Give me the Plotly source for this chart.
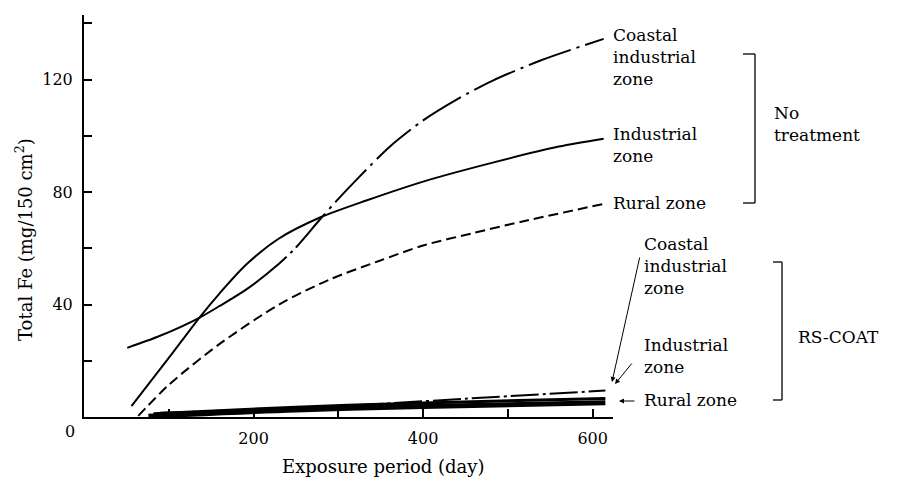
import plotly.graph_objects as go

# ---- data ----
# No treatment
days_coastal = [51, 89, 136, 160, 192, 230, 250, 277, 297, 325, 360, 400, 440, 481, 540, 613]
fe_coastal = [24.6, 28.8, 35.3, 39.5, 45.5, 54.5, 60.3, 69.8, 76.6, 85.5, 96.0, 105.5, 113.0, 119.5, 127.0, 134.5]

days_industrial = [56, 100, 136, 160, 192, 230, 277, 333, 403, 481, 560, 613]
fe_industrial = [3.9, 21.0, 35.3, 44.0, 54.4, 63.5, 70.8, 77.0, 84.0, 90.4, 96.2, 99.0]

days_rural = [64, 101, 160, 230, 289, 348, 400, 460, 521, 613]
fe_rural = [0.4, 11.7, 26.0, 40.0, 48.8, 55.5, 61.0, 65.5, 69.8, 75.8]

# RS-COAT
days_rs_coastal = [90, 283, 450, 615]
fe_rs_coastal = [1.5, 3.6, 6.5, 9.4]
days_rs_industrial = [82, 250, 400, 615]
fe_rs_industrial = [1.2, 3.5, 5.0, 6.6]
days_rs_rural = [76, 250, 400, 615]
fe_rs_rural = [0.3, 2.5, 3.7, 5.1]

x_tickvals = [100, 200, 300, 400, 500, 600]
x_ticktext = ["", "200", "", "400", "", "600"]
y_tickvals = [20, 40, 60, 80, 100, 120, 140]
y_ticktext = ["", "40", "", "80", "", "120", ""]

FONT = "DejaVu Serif"
O = 8  # page body margin offset
W, H = 906 - O, 477 - O
L, R, T, B = 84 - O, 613 - O, 15 - O, 417 - O


def px(x):
    return (x - O - L) / (R - L)


def py(y):
    return (B - (y - O)) / (B - T)


coastal_dash = "185px,5px,3px,5px," + ",".join(["45px,6px,3px,6px"] * 14)

fig = go.Figure()
fig.add_trace(go.Scatter(x=days_coastal, y=fe_coastal, mode="lines",
                         line=dict(color="black", width=2, dash=coastal_dash, shape="spline", smoothing=0.8)))
fig.add_trace(go.Scatter(x=days_industrial, y=fe_industrial, mode="lines",
                         line=dict(color="black", width=2, shape="spline", smoothing=0.8)))
fig.add_trace(go.Scatter(x=days_rural, y=fe_rural, mode="lines",
                         line=dict(color="black", width=2, dash="10px,5px", shape="spline", smoothing=0.8)))
fig.add_trace(go.Scatter(x=days_rs_rural, y=fe_rs_rural, mode="lines",
                         line=dict(color="black", width=5, shape="spline")))
fig.add_trace(go.Scatter(x=days_rs_industrial, y=fe_rs_industrial, mode="lines",
                         line=dict(color="black", width=3, shape="spline")))
fig.add_trace(go.Scatter(x=days_rs_coastal, y=fe_rs_coastal, mode="lines",
                         line=dict(color="black", width=2, dash="28px,4px,3px,4px", shape="spline")))

ann = []


def text(x, y, t, size=17, xanchor="left"):
    ann.append(dict(x=px(x), y=py(y), xref="paper", yref="paper", text=t, showarrow=False,
                    xanchor=xanchor, yanchor="middle", align="left",
                    font=dict(size=size, family=FONT, color="black")))


text(611, 57, "Coastal<br>industrial<br>zone")
text(611, 145, "Industrial<br>zone")
text(611, 203, "Rural zone")
text(772, 124, "No<br>treatment")
text(642, 266, "Coastal<br>industrial<br>zone")
text(642, 356, "Industrial<br>zone")
text(642, 400, "Rural zone")
text(796, 337, "RS-COAT")
text(70, 431, "0", size=16, xanchor="center")

# axis titles
ann.append(dict(x=px(383), y=py(466), xref="paper", yref="paper", text="Exposure period (day)",
                showarrow=False, xanchor="center", yanchor="middle",
                font=dict(size=18, family=FONT, color="black")))
ann.append(dict(x=px(24), y=py(240), xref="paper", yref="paper",
                text="Total Fe (mg/150 cm<sup>2</sup>)", textangle=-90,
                showarrow=False, xanchor="center", yanchor="middle",
                font=dict(size=18, family=FONT, color="black")))

# arrows for RS-COAT labels
for (hx, hy, tx, ty) in [(612, 382, 640, 256), (615, 384, 633, 362), (619, 401, 636, 401)]:
    ann.append(dict(x=px(hx), y=py(hy), xref="paper", yref="paper", text="",
                    showarrow=True, ax=tx - hx, ay=ty - hy, axref="pixel", ayref="pixel",
                    arrowhead=2, arrowsize=1, arrowwidth=1, arrowcolor="black", standoff=0))

shapes = []


def seg(x0, y0, x1, y1, w=1.3):
    shapes.append(dict(type="line", xref="paper", yref="paper", x0=px(x0), y0=py(y0),
                       x1=px(x1), y1=py(y1), line=dict(color="black", width=w)))


# brackets
seg(743, 54, 755, 54)
seg(755, 54, 755, 203)
seg(743, 203, 755, 203)
seg(773, 262, 782, 262)
seg(782, 262, 782, 400)
seg(773, 400, 782, 400)

fig.update_layout(
    width=W, height=H,
    margin=dict(l=L, r=W - R, t=T, b=H - B),
    paper_bgcolor="white", plot_bgcolor="white",
    showlegend=False,
    annotations=ann, shapes=shapes,
    xaxis=dict(range=[0, 624], showgrid=False, zeroline=False, showline=True, linecolor="black",
               linewidth=2, ticks="inside", ticklen=8, tickwidth=1.5, tickcolor="black",
               tickvals=x_tickvals, ticktext=x_ticktext, ticklabelstandoff=6,
               tickfont=dict(size=16, family=FONT, color="black")),
    yaxis=dict(range=[0, 143], showgrid=False, zeroline=False, showline=True, linecolor="black",
               linewidth=2, ticks="inside", ticklen=8, tickwidth=1.5, tickcolor="black",
               tickvals=y_tickvals, ticktext=y_ticktext, ticklabelstandoff=6,
               tickfont=dict(size=16, family=FONT, color="black")),
)

fig.write_html("out.html")
